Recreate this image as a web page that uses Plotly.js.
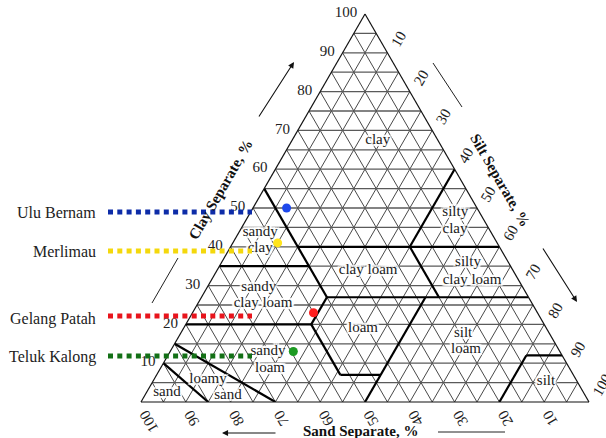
<!DOCTYPE html>
<html>
<head>
<meta charset="utf-8">
<script src="https://cdn.plot.ly/plotly-3.0.1.min.js"></script>
<style>html,body{margin:0;padding:0;background:#fff;}#chart{width:606px;height:438px;}</style>
</head>
<body>
<div id="chart"></div>
<script>
// ---- sample soils (clay %, sand %, silt %) ----
const sampleNames = ['Ulu Bernam', 'Merlimau', 'Gelang Patah', 'Teluk Kalong'];
const sampleClay = [50, 41, 23, 13];
const sampleSand = [42.5, 49, 50, 59.5];
const sampleSilt = [7.5, 10, 27, 27.5];

// ---- tick labels ----
const tickVals = [10, 20, 30, 40, 50, 60, 70, 80, 90, 100];
const tickText = ['10', '20', '30', '40', '50', '60', '70', '80', '90', '100'];

// ---- grid levels (every 5 %) ----
const gridLevels = [5, 10, 15, 20, 25, 30, 35, 40, 45, 50, 55, 60, 65, 70, 75, 80, 85, 90, 95];

// ---- USDA texture class boundaries (segments separated by null) ----
const boundaryClay = [40, 40, null, 55, 27, null, 35, 35, null, 60, 40, null, 40, 27, null, 27, 27, null, 27, 20, null, 20, 20, null, 20, 7, null, 7, 7, null, 0, 27, null, 0, 12, null, 12, 12, null, 15, 0, null, 10, 0];
const boundarySand = [45, 0, null, 45, 45, null, 65, 45, null, 0, 20, null, 20, 20, null, 45, 0, null, 45, 52, null, 80, 52, null, 52, 52, null, 52, 43, null, 50, 23, null, 20, 8, null, 8, 0, null, 85, 70, null, 90, 85];
const boundarySilt = [15, 60, null, 0, 28, null, 0, 20, null, 40, 40, null, 40, 53, null, 28, 73, null, 28, 28, null, 0, 28, null, 28, 41, null, 41, 50, null, 50, 50, null, 80, 80, null, 80, 88, null, 0, 30, null, 0, 15];

// ---- texture class labels ----
const classText = ['clay', 'sandy', 'clay', 'silty', 'clay', 'clay loam', 'silty', 'clay loam', 'sandy', 'clay loam', 'loam', 'silt', 'loam', 'sandy', 'loam', 'loamy', 'sand', 'sand', 'silt'];
const classClay = [67.5, 43.8, 39.6, 48.9, 44.6, 34.0, 36.0, 31.4, 29.6, 25.5, 19.1, 17.8, 13.7, 13.1, 8.8, 5.9, 1.8, 2.6, 5.4];
const classSand = [13.4, 51.5, 53.6, 5.4, 7.6, 32.3, 9.0, 10.4, 58.9, 60.0, 40.9, 19.2, 20.6, 65.1, 66.8, 82.1, 79.7, 92.9, 6.9];
const classSilt = [19.1, 4.7, 6.8, 45.7, 47.8, 33.7, 55.0, 58.2, 11.5, 14.5, 40.0, 63.0, 65.7, 21.8, 24.4, 12.0, 18.5, 4.5, 87.7];

// ---------------------------------------------------------------
const FONT = 'Liberation Serif, "Times New Roman", serif';
const W = 606, H = 438;
const px = x => x / W;
const py = y => 1 - y / H;
const HALO = '2px 0 1px #fff, -2px 0 1px #fff, 0 2px 1px #fff, 0 -2px 1px #fff, 2px 2px 1px #fff, -2px -2px 1px #fff, 2px -2px 1px #fff, -2px 2px 1px #fff';

function gridLines(kind) {
  const a = [], b = [], c = [];
  gridLevels.forEach(v => {
    if (kind === 'a') { a.push(v, v, null); b.push(100 - v, 0, null); c.push(0, 100 - v, null); }
    if (kind === 'b') { a.push(100 - v, 0, null); b.push(v, v, null); c.push(0, 100 - v, null); }
    if (kind === 'c') { a.push(100 - v, 0, null); b.push(0, 100 - v, null); c.push(v, v, null); }
  });
  return {a, b, c};
}

const traces = [];
['b', 'c'].forEach(k => {
  const g = gridLines(k);
  traces.push({type: 'scatterternary', mode: 'lines', a: g.a, b: g.b, c: g.c,
    line: {color: '#333', width: 0.9}, hoverinfo: 'skip', showlegend: false});
});
const gA = gridLines('a');
traces.push({type: 'scatterternary', mode: 'lines', a: gA.a, b: gA.b, c: gA.c,
  line: {color: '#5a5a5a', width: 1.3}, hoverinfo: 'skip', showlegend: false});

traces.push({type: 'scatterternary', mode: 'lines', a: boundaryClay, b: boundarySand, c: boundarySilt,
  line: {color: '#000', width: 2.2}, hoverinfo: 'skip', showlegend: false});

traces.push({type: 'scatterternary', mode: 'text', a: classClay, b: classSand, c: classSilt,
  text: classText, textposition: 'middle center',
  textfont: {family: FONT, size: 15, color: '#1a1a1a', shadow: HALO}, hoverinfo: 'skip', showlegend: false});

traces.push({type: 'scatterternary', mode: 'markers', a: sampleClay, b: sampleSand, c: sampleSilt,
  text: sampleNames,
  marker: {size: 9, color: ['#1f49ec', '#ffe41c', '#ff1f1f', '#1c9a22'], line: {width: 0}},
  hoverinfo: 'skip', showlegend: false});

const axisCommon = {
  tickmode: 'array', tickvals: tickVals, ticktext: tickText,
  showgrid: false, showline: true, linecolor: '#111', linewidth: 1.2,
  ticks: 'outside', ticklen: 5, tickcolor: 'rgba(0,0,0,0)',
  tickfont: {family: FONT, size: 15, color: '#222'},
  title: {text: ''}
};

const legendY = [212, 251, 316, 356];
const labelY = [213, 251, 319, 357];
const leaderColors = ['#0d2ca8', '#f4d80c', '#e8141c', '#137016'];

const shapes = legendY.map((y, i) => ({
  type: 'line', xref: 'paper', yref: 'paper', layer: 'above',
  x0: px(108), x1: px(252), y0: py(y), y1: py(y),
  line: {color: leaderColors[i], width: 5, dash: '5px,4.3px'}
}));
shapes.push({type: 'line', xref: 'paper', yref: 'paper', x0: px(152), y0: py(303), x1: px(178), y1: py(258), line: {color: '#222', width: 1}});
shapes.push({type: 'line', xref: 'paper', yref: 'paper', x0: px(433), y0: py(63), x1: px(462), y1: py(107), line: {color: '#222', width: 1}});
shapes.push({type: 'line', xref: 'paper', yref: 'paper', x0: px(438), y0: py(432), x1: px(505), y1: py(432), line: {color: '#222', width: 1}});

const annotations = sampleNames.map((n, i) => ({
  xref: 'paper', yref: 'paper', x: px(98), y: py(labelY[i]), xanchor: 'right', yanchor: 'middle',
  text: n, showarrow: false, font: {family: FONT, size: 16, color: '#222'}
}));
annotations.push({xref: 'paper', yref: 'paper', x: px(221), y: py(189), xanchor: 'center', yanchor: 'middle',
  text: '<b>Clay Separate, %</b>', textangle: -60,
  showarrow: false, font: {family: FONT, size: 15, color: '#111'}});
annotations.push({xref: 'paper', yref: 'paper', x: px(500), y: py(180), xanchor: 'center', yanchor: 'middle',
  text: '<b>Silt Separate, %</b>', textangle: 60,
  showarrow: false, font: {family: FONT, size: 15, color: '#111'}});
annotations.push({xref: 'paper', yref: 'paper', x: px(360), y: py(431), xanchor: 'center', yanchor: 'middle',
  text: '<b>Sand Separate, %</b>',
  showarrow: false, font: {family: FONT, size: 15, color: '#111'}});
// arrows
[[294, 62, 258, 118], [577, 302, 542, 247], [222, 433, 277, 433]].forEach(p => {
  annotations.push({xref: 'paper', yref: 'paper', x: px(p[0]), y: py(p[1]), ax: p[2] - p[0], ay: p[3] - p[1],
    text: '', showarrow: true, arrowhead: 2, arrowsize: 1.1, arrowwidth: 1.1, arrowcolor: '#111', standoff: 0});
});

const layout = {
  width: W, height: H,
  margin: {l: 0, r: 0, t: 0, b: 0},
  paper_bgcolor: '#fff',
  showlegend: false,
  hovermode: false,
  ternary: {
    sum: 100,
    bgcolor: '#fff',
    domain: {x: [141 / W, 589 / W], y: [(H - 402) / H, (H - 14) / H]},
    aaxis: Object.assign({}, axisCommon, {tickangle: 0}),
    baxis: Object.assign({}, axisCommon, {tickangle: -120, ticks: '', ticklen: 0}),
    caxis: Object.assign({}, axisCommon, {tickangle: -60})
  },
  shapes: shapes,
  annotations: annotations
};

Plotly.newPlot('chart', traces, layout, {staticPlot: true, displayModeBar: false});
</script>
</body>
</html>
